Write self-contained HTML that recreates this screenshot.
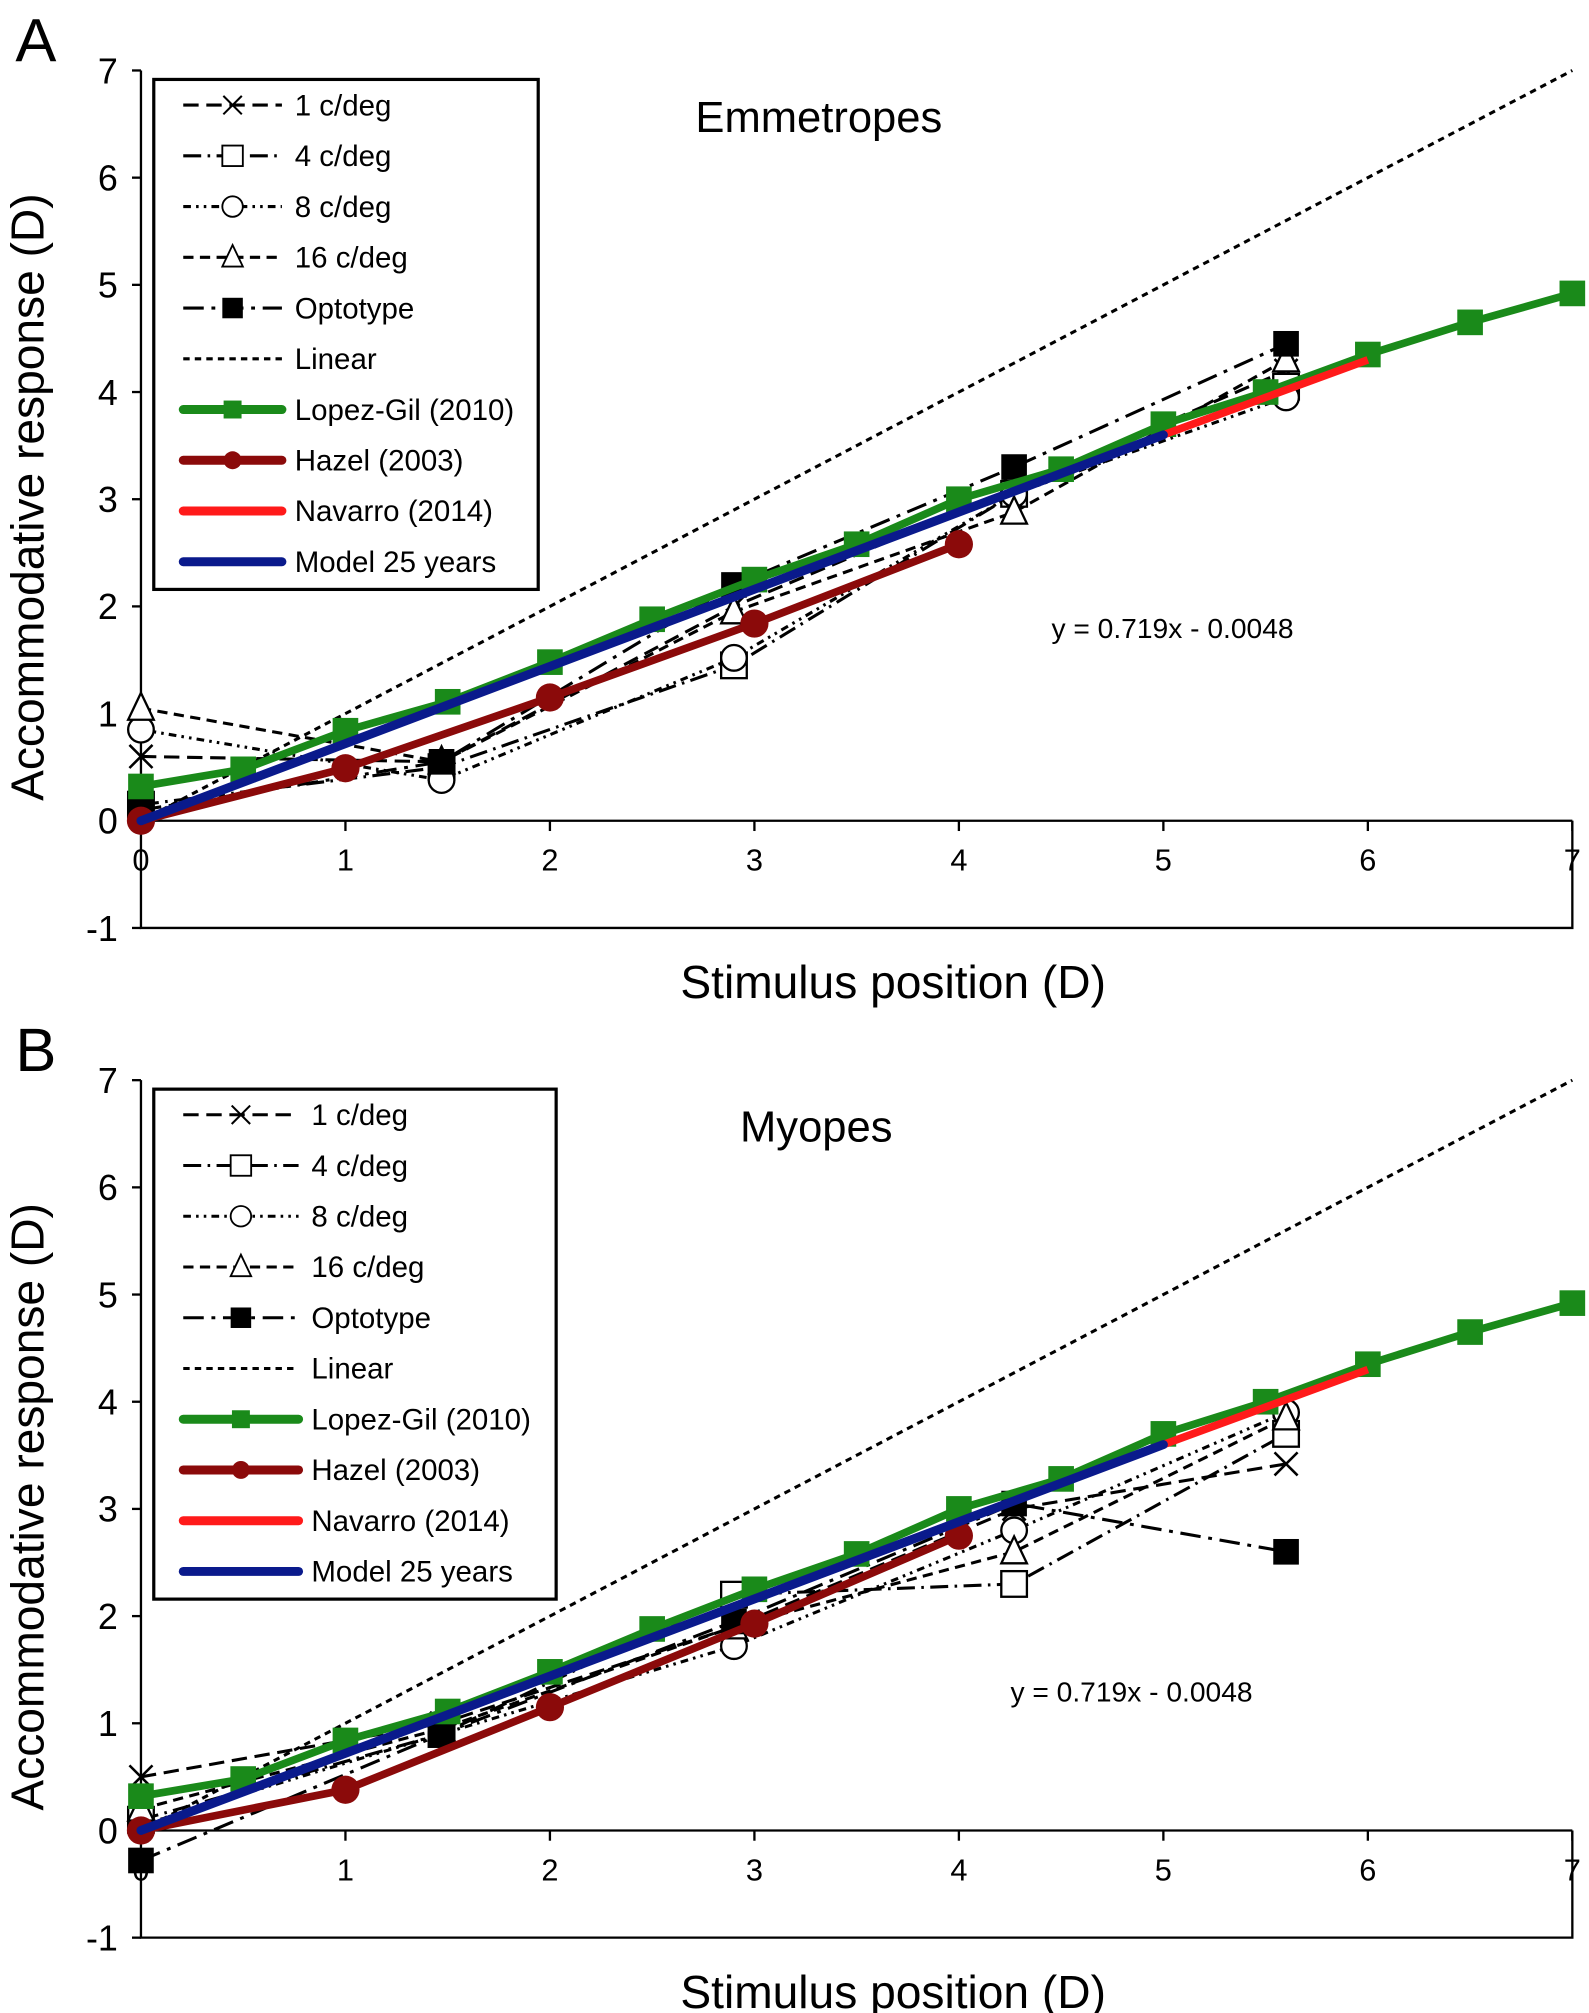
<!DOCTYPE html>
<html><head><meta charset="utf-8"><style>
html,body{margin:0;padding:0;background:#fff}
svg{display:block}
text{font-family:"Liberation Sans",Arial,sans-serif;fill:#000}
</style></head><body>
<svg id="chart" width="1589" height="2013" viewBox="0 0 1240 1571" preserveAspectRatio="none" xmlns="http://www.w3.org/2000/svg"></svg>
<script>
// ---- data ----
const stimX = [0, 1.47, 2.9, 4.27, 5.6];
const lopezX = [0,0.5,1,1.5,2,2.5,3,3.5,4,4.5,5,5.5,6,6.5,7];
const lopezY = [0.32,0.48,0.84,1.11,1.48,1.88,2.25,2.58,3.0,3.28,3.7,4.0,4.35,4.65,4.92];
const hazelX = [0,1,2,3,4];
const hazelYA = [0,0.49,1.15,1.84,2.58];
const hazelYB = [0,0.38,1.15,1.93,2.75];
const navarroX = [5,6];
const navarroY = [3.6,4.3];
const modelX = [0,5];
const modelY = [0,3.6];
const linearX = [0,7];
const linearY = [0,7];
// Emmetropes
const a1 = [0.6,0.55,2.0,3.1,4.2];
const a4 = [0.15,0.5,1.45,3.05,4.05];
const a8 = [0.85,0.38,1.52,3.05,3.95];
const a16 = [1.05,0.55,1.95,2.88,4.3];
const aOpt = [0.1,0.55,2.2,3.3,4.45];
// Myopes
const b1 = [0.5,1.0,1.9,3.0,3.42];
const b4 = [0.1,0.9,2.2,2.3,3.7];
const b8 = [0.05,0.9,1.72,2.8,3.9];
const b16 = [0.2,0.95,1.9,2.6,3.85];
const bOpt = [-0.28,0.9,1.95,3.05,2.6];
const yTicks = [-1,0,1,2,3,4,5,6,7];
const xTicks = [0,1,2,3,4,5,6,7];
const legendLabels = ["1 c/deg","4 c/deg","8 c/deg","16 c/deg","Optotype","Linear","Lopez-Gil (2010)","Hazel (2003)","Navarro (2014)","Model 25 years"];

const NS="http://www.w3.org/2000/svg";
const svg=document.getElementById('chart');
function mk(tag,attrs,parent){const e=document.createElementNS(NS,tag);for(const k in attrs)e.setAttribute(k,attrs[k]);(parent||svg).appendChild(e);return e;}

const styles={
 c1:{dash:"12 6",marker:"x"},
 c4:{dash:"14 5 2 5",marker:"sq"},
 c8:{dash:"6 4 2 4 2 4",marker:"ci"},
 c16:{dash:"8 5",marker:"tri"},
 opt:{dash:"16 6 3 6",marker:"fsq"}
};

function marker(g,type,px,py){
  let e;
  if(type==="x"){e=mk('path',{d:`M${px-9} ${py-9}L${px+9} ${py+9}M${px+9} ${py-9}L${px-9} ${py+9}`,stroke:'#000','stroke-width':2,fill:'none'},g);}
  else if(type==="sq"){e=mk('rect',{x:px-10,y:py-10,width:20,height:20,fill:'#fff',stroke:'#000','stroke-width':1.8},g);}
  else if(type==="ci"){e=mk('circle',{cx:px,cy:py,r:10,fill:'#fff',stroke:'#000','stroke-width':1.8},g);}
  else if(type==="tri"){e=mk('path',{d:`M${px} ${py-12}L${px+10} ${py+9}L${px-10} ${py+9}Z`,fill:'#fff',stroke:'#000','stroke-width':1.8},g);}
  else if(type==="fsq"){e=mk('rect',{x:px-10,y:py-10,width:20,height:20,fill:'#000'},g);}
  else if(type==="gsq"){e=mk('rect',{x:px-10,y:py-10,width:20,height:20,fill:'#1a8a1a'},g);}
  else if(type==="rci"){e=mk('circle',{cx:px,cy:py,r:11,fill:'#8b0a0a'},g);}
  
  
  return e;
}

function panel(opts){
  const X0=110,X1=1227,top=opts.top,unitY=83.65,unitX=(X1-X0)/7;
  const y0=top+7*unitY;
  const sx=v=>X0+v*unitX, sy=v=>y0-v*unitY;
  const g=mk('g',{});
  
  
  const ax=mk('path',{d:`M${X0} ${sy(7)}V${sy(-1)}H${X1}V${y0}M${X0} ${y0}H${X1}`,stroke:'#000','stroke-width':1.8,fill:'none'},g);
  
  
  yTicks.forEach(t=>{
    mk('line',{x1:X0-7,x2:X0,y1:sy(t),y2:sy(t),stroke:'#000','stroke-width':1.8},g);
    const tx=mk('text',{x:X0-18,y:sy(t)+10,'text-anchor':'end','font-size':28},g);tx.textContent=t;
    
    
  });
  xTicks.forEach(t=>{
    mk('line',{x1:sx(t),x2:sx(t),y1:y0,y2:y0+8,stroke:'#000','stroke-width':1.8},g);
    const tx=mk('text',{x:sx(t),y:y0+39,'text-anchor':'middle','font-size':24},g);tx.textContent=t;
    
    
  });
  const pts=(xs,ys)=>xs.map((x,i)=>sx(x)+','+sy(ys[i])).join(' ');
  let l=mk('polyline',{points:pts(linearX,linearY),fill:'none',stroke:'#000','stroke-width':2.4,'stroke-dasharray':'5 4'},g);
  
  
  const ser=[['c1',opts.s1],['c4',opts.s4],['c8',opts.s8],['c16',opts.s16],['opt',opts.sOpt]];
  ser.forEach(([k,ys])=>{
    const pl=mk('polyline',{points:pts(stimX,ys),fill:'none',stroke:'#000','stroke-width':2.4,'stroke-dasharray':styles[k].dash},g);
    
    
  });
  ser.forEach(([k,ys])=>{ys.forEach((v,i)=>marker(g,styles[k].marker,sx(stimX[i]),sy(v)));});
  let lg=mk('polyline',{points:pts(lopezX,lopezY),fill:'none',stroke:'#1a8a1a','stroke-width':6},g);
  
  
  lopezX.forEach((x,i)=>marker(g,'gsq',sx(x),sy(lopezY[i])));
  let hz=mk('polyline',{points:pts(hazelX,opts.hazel),fill:'none',stroke:'#8b0a0a','stroke-width':6},g);
  
  
  hazelX.forEach((x,i)=>marker(g,'rci',sx(x),sy(opts.hazel[i])));
  let nv=mk('polyline',{points:pts(navarroX,navarroY),fill:'none',stroke:'#ff1a1a','stroke-width':6},g);
  
  
  let md=mk('polyline',{points:pts(modelX,modelY),fill:'none',stroke:'#0a1a8c','stroke-width':7,'stroke-linecap':'round'},g);
  
  
  const lgd=mk('g',{},g);
  
  
  mk('rect',{x:opts.lx,y:top+7,width:opts.lw,height:398,fill:'#fff',stroke:'#000','stroke-width':2.5},lgd);
  const lx1=opts.lx+23,lx2=opts.lx+opts.lineLen,mx=(lx1+lx2)/2;
  const kinds=['c1','c4','c8','c16','opt','lin','lop','haz','nav','mod'];
  kinds.forEach((k,i)=>{
    const yy=top+27+i*39.6;
    const ent=mk('g',{},lgd);
    
    
    if(styles[k]){mk('line',{x1:lx1,x2:lx2,y1:yy,y2:yy,stroke:'#000','stroke-width':2.4,'stroke-dasharray':styles[k].dash},ent);marker(ent,styles[k].marker,mx,yy).setAttribute('transform',`translate(${mx} ${yy}) scale(0.8) translate(${-mx} ${-yy})`);}
    else if(k==='lin')mk('line',{x1:lx1,x2:lx2,y1:yy,y2:yy,stroke:'#000','stroke-width':2.4,'stroke-dasharray':'5 4'},ent);
    else{
      const col={lop:'#1a8a1a',haz:'#8b0a0a',nav:'#ff1a1a',mod:'#0a1a8c'}[k];
      mk('line',{x1:lx1,x2:lx2,y1:yy,y2:yy,stroke:col,'stroke-width':7,'stroke-linecap':'round'},ent);
      if(k==='lop')mk('rect',{x:mx-7,y:yy-7,width:14,height:14,fill:col},ent);
      if(k==='haz')mk('circle',{cx:mx,cy:yy,r:7,fill:col},ent);
    }
    const t=mk('text',{x:lx2+10,y:yy+8,'font-size':23},ent);t.textContent=legendLabels[i];
  });
  const ti=mk('text',{x:opts.tx,y:top+48,'text-anchor':'middle','font-size':34},g);ti.textContent=opts.title;
  
  
  const eq=mk('text',{x:opts.ex,y:opts.ey,'text-anchor':'middle','font-size':22},g);eq.textContent='y = 0.719x - 0.0048';
  
  
  const xl=mk('text',{x:697,y:top+724,'text-anchor':'middle','font-size':36},g);xl.textContent='Stimulus position (D)';
  
  
  const cy=top+333;
  const yl=mk('text',{x:34,y:cy,'text-anchor':'middle','font-size':36,transform:`rotate(-90 34 ${cy})`},g);yl.textContent='Accommodative response (D)';
  
  
  const pl=mk('text',{x:28,y:top-7,'text-anchor':'middle','font-size':48},g);pl.textContent=opts.letter;
  
  
}
panel({name:'panel-a-emmetropes',top:55,s1:a1,s4:a4,s8:a8,s16:a16,sOpt:aOpt,hazel:hazelYA,lx:120,lw:300,lineLen:100,title:'Emmetropes',tx:639,ex:915,ey:498,letter:'A'});
panel({name:'panel-b-myopes',top:843,s1:b1,s4:b4,s8:b8,s16:b16,sOpt:bOpt,hazel:hazelYB,lx:120,lw:314,lineLen:113,title:'Myopes',tx:637,ex:883,ey:1328,letter:'B'});
</script>
</body></html>
